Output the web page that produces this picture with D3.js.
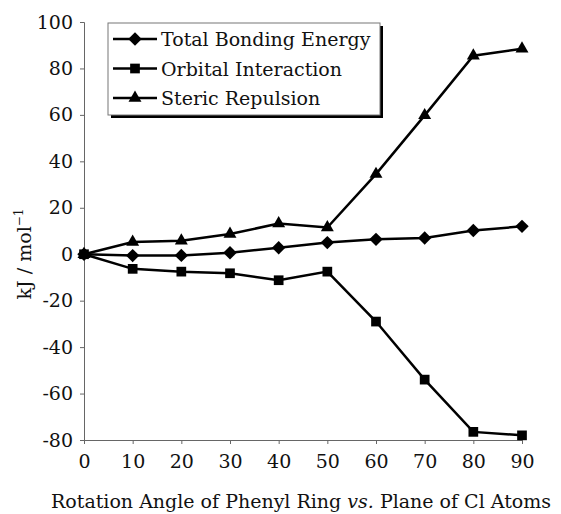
<!DOCTYPE html>
<html>
<head>
<meta charset="utf-8">
<script src="https://cdn.jsdelivr.net/npm/d3@7/dist/d3.min.js"></script>
<style>
  body { margin: 0; background: #fff; }
</style>
</head>
<body>
<svg id="chart"></svg>
<script>
// rotation angle (degrees)
var angles = [0, 10, 20, 30, 40, 50, 60, 70, 80, 90];

// kJ/mol
var totalBonding = [0, -0.6, -0.5, 0.6, 2.8, 5, 6.4, 7, 10.2, 12];
var orbitalInteraction = [0, -6.3, -7.5, -8.2, -11.2, -7.5, -29, -54, -76.5, -78];
var stericRepulsion = [0, 5.3, 5.8, 8.7, 13.2, 11.5, 34.5, 59.8, 85.5, 88.5];

var seriesNames = ["Total Bonding Energy", "Orbital Interaction", "Steric Repulsion"];
var seriesSymbols = [d3.symbolDiamond2, d3.symbolSquare2, d3.symbolTriangle2];

var xTicks = [0, 10, 20, 30, 40, 50, 60, 70, 80, 90];
var yTicks = [-80, -60, -40, -20, 0, 20, 40, 60, 80, 100];

var W = 561, H = 514;
var FONT = "DejaVu Serif";
var FS = 19;
var svg = d3.select("#chart").attr("width", W).attr("height", H)
  .attr("font-family", FONT);

var x = d3.scaleLinear().domain([0, 90]).range([84, 522]);
var y = d3.scaleLinear().domain([-80, 100]).range([440, 22]);

// axes
var yAxis = svg.append("g")
  .attr("transform", "translate(84,0)")
  .call(d3.axisLeft(y).tickValues(yTicks).tickSize(4).tickPadding(7)
    .tickFormat(d3.format("d")));
var xAxis = svg.append("g")
  .attr("transform", "translate(0,440)")
  .call(d3.axisBottom(x).tickValues(xTicks).tickSize(4).tickPadding(11)
    .tickFormat(d3.format("d")));

[yAxis, xAxis].forEach(function (a) {
  a.attr("font-family", FONT).attr("font-size", FS);
  a.select(".domain").attr("stroke", "#666").attr("stroke-width", 1);
  a.selectAll(".tick line").attr("stroke", "#666");
  a.selectAll(".tick text").attr("fill", "#111");
});
yAxis.selectAll(".tick text").text(function (d) { return d < 0 ? "-" + Math.abs(d) : d; });

// axis titles
svg.append("text")
  .attr("x", (W + 45) / 2 - 2).attr("y", 508)
  .attr("text-anchor", "middle")
  .attr("font-size", FS)
  .attr("fill", "#111")
  .html('Rotation Angle of Phenyl Ring <tspan font-style="italic">vs.</tspan> Plane of Cl Atoms');

svg.append("text")
  .attr("transform", "translate(31,254) rotate(-90)")
  .attr("text-anchor", "middle")
  .attr("font-size", FS)
  .attr("fill", "#111")
  .html('kJ / mol<tspan dy="-8" font-size="12">−1</tspan>');

// series
var allSeries = [totalBonding, orbitalInteraction, stericRepulsion];
var line = d3.line()
  .x(function (d, i) { return x(angles[i]); })
  .y(function (d) { return y(d); });

var symbolSizes = [115, 120, 120];

allSeries.forEach(function (vals, s) {
  svg.append("path")
    .datum(vals)
    .attr("fill", "none")
    .attr("stroke", "#000")
    .attr("stroke-width", 2.5)
    .attr("d", line);
  svg.selectAll(".m" + s)
    .data(vals)
    .enter().append("path")
    .attr("class", "m" + s)
    .attr("transform", function (d, i) { return "translate(" + x(angles[i]) + "," + y(d) + ")"; })
    .attr("d", d3.symbol().type(seriesSymbols[s]).size(symbolSizes[s]))
    .attr("fill", "#000");
});

// legend
var lg = svg.append("g").attr("transform", "translate(108,23)");
lg.append("rect").attr("x", 3).attr("y", 3).attr("width", 272).attr("height", 92).attr("fill", "#000");
lg.append("rect").attr("x", 0).attr("y", 0).attr("width", 272).attr("height", 92)
  .attr("fill", "#fff").attr("stroke", "#777").attr("stroke-width", 1);

seriesNames.forEach(function (name, s) {
  var ry = 16 + s * 29.5;
  lg.append("line").attr("x1", 5).attr("x2", 49).attr("y1", ry).attr("y2", ry)
    .attr("stroke", "#000").attr("stroke-width", 2.5);
  lg.append("path")
    .attr("transform", "translate(27," + ry + ")")
    .attr("d", d3.symbol().type(seriesSymbols[s]).size(symbolSizes[s]))
    .attr("fill", "#000");
  lg.append("text").attr("x", 53).attr("y", ry + 7)
    .attr("font-size", FS)
    .attr("fill", "#111")
    .text(name);
});
</script>
</body>
</html>
